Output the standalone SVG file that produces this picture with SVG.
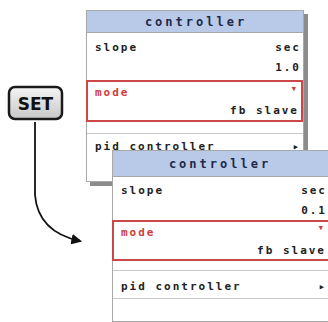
<svg xmlns="http://www.w3.org/2000/svg" width="328" height="322" viewBox="0 0 328 322">
  <defs>
    <linearGradient id="btnFill" x1="0" y1="0" x2="0" y2="1">
      <stop offset="0" stop-color="#f4f4f4"/>
      <stop offset="1" stop-color="#c8c8c8"/>
    </linearGradient>
    <marker id="arrowHead" viewBox="0 0 10 10" refX="8" refY="5" markerWidth="6" markerHeight="6" orient="auto">
      <path d="M0,0 L10,5 L0,10 Z" fill="#111"/>
    </marker>
    <style>
      .panel { fill: #ffffff; stroke: #a8a8a8; stroke-width: 1; }
      .shadow { fill: #8c8c8c; }
      .hdr { fill: #b9c9e8; stroke: #a8a8a8; stroke-width: 1; }
      .title { font-family: "DejaVu Sans Mono", "Liberation Mono", monospace; font-weight: bold; font-size: 12px; letter-spacing: 3px; fill: #1c2a4a; text-anchor: middle; }
      .lbl { font-family: "DejaVu Sans Mono", "Liberation Mono", monospace; font-weight: bold; font-size: 11px; letter-spacing: 2px; fill: #222; }
      .val { text-anchor: end; }
      .red { fill: #d23c3c; }
      .sel { fill: none; stroke: #cc4848; stroke-width: 2; }
      .sep { stroke: #c8c8c8; stroke-width: 1; }
      .btn { fill: url(#btnFill); stroke: #1a1a1a; stroke-width: 2.5; }
      .btnText { font-family: "DejaVu Sans", "Liberation Sans", sans-serif; font-weight: bold; font-size: 17px; fill: #111; text-anchor: middle; }
      .link { fill: none; stroke: #111; stroke-width: 1.8; }
    </style>
  </defs>

  <rect width="328" height="322" fill="#ffffff"/>

  <!-- upper controller menu -->
  <g id="menu-back">
    <rect class="shadow" x="90" y="14" width="218" height="172"/>
    <rect class="panel" x="86.5" y="10.5" width="217" height="171"/>
    <rect class="hdr" x="86.5" y="10.5" width="217" height="22"/>
    <text class="title" x="196" y="26">controller</text>
    <text class="lbl" x="95" y="51">slope</text>
    <text class="lbl val" x="301" y="51">sec</text>
    <text class="lbl val" x="301" y="71">1.0</text>
    <rect class="sel" x="87" y="81" width="215" height="40"/>
    <text class="lbl red" x="95" y="96">mode</text>
    <text class="lbl val red" x="299" y="92" font-size="9">▾</text>
    <text class="lbl val" x="299" y="114">fb slave</text>
    <line class="sep" x1="87" y1="133.5" x2="303" y2="133.5"/>
    <text class="lbl" x="95" y="150">pid controller</text>
    <text class="lbl val" x="301" y="150">▸</text>
  </g>

  <!-- lower controller menu -->
  <g id="menu-front">
    <rect class="panel" x="112.5" y="150.5" width="217" height="171"/>
    <rect class="hdr" x="112.5" y="150.5" width="217" height="26"/>
    <text class="title" x="220" y="168">controller</text>
    <text class="lbl" x="121" y="194">slope</text>
    <text class="lbl val" x="327" y="194">sec</text>
    <text class="lbl val" x="327" y="214">0.1</text>
    <rect class="sel" x="113" y="221" width="216" height="39"/>
    <text class="lbl red" x="121" y="236">mode</text>
    <text class="lbl val red" x="326" y="231" font-size="9">▾</text>
    <text class="lbl val" x="326" y="254">fb slave</text>
    <line class="sep" x1="113" y1="270.5" x2="328" y2="270.5"/>
    <text class="lbl" x="121" y="290">pid controller</text>
    <text class="lbl val" x="327" y="290">▸</text>
    <line class="sep" x1="113" y1="298.5" x2="328" y2="298.5"/>
  </g>

  <!-- SET button -->
  <g id="set-button">
    <rect class="btn" x="9" y="87" width="53" height="32" rx="6"/>
    <text class="btnText" x="35.5" y="110">SET</text>
  </g>

  <!-- connectors -->
  <g id="connectors">
    <path class="link" d="M35,122 L35,195 Q38,232 80,241" marker-end="url(#arrowHead)"/>
  </g>
</svg>
